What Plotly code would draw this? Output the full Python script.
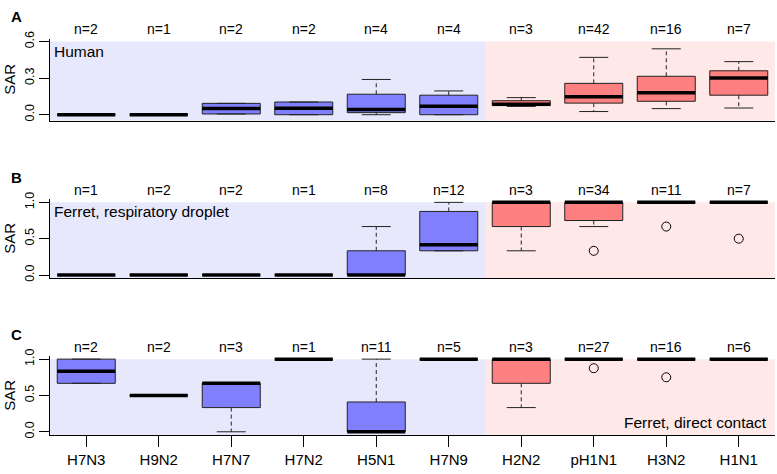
import plotly.graph_objects as go

# ---------------- data ----------------
categories = ["H7N3", "H9N2", "H7N7", "H7N2", "H5N1", "H7N9", "H2N2", "pH1N1", "H3N2", "H1N1"]
n_avian = 6  # first six subtypes are avian (blue), rest human (red)

# Panel A: Human
human_n = [2, 1, 2, 2, 4, 4, 3, 42, 16, 7]
human_lowwhisk = [0, 0, 0.006, 0, 0, 0, 0.068, 0.026, 0.05, 0.055]
human_q1 = [0, 0, 0.006, 0, 0.017, 0, 0.075, 0.095, 0.11, 0.16]
human_median = [0, 0, 0.05, 0.053, 0.043, 0.07, 0.085, 0.147, 0.18, 0.30]
human_q3 = [0, 0, 0.093, 0.104, 0.168, 0.16, 0.115, 0.257, 0.315, 0.36]
human_upwhisk = [0, 0, 0.093, 0.104, 0.289, 0.195, 0.14, 0.47, 0.54, 0.435]
human_outliers = [[], [], [], [], [], [], [], [], [], []]

# Panel B: Ferret, respiratory droplet
rd_n = [1, 2, 2, 1, 8, 12, 3, 34, 11, 7]
rd_lowwhisk = [0, 0, 0, 0, 0, 0.333, 0.333, 0.667, 1, 1]
rd_q1 = [0, 0, 0, 0, 0, 0.333, 0.667, 0.75, 1, 1]
rd_median = [0, 0, 0, 0, 0, 0.417, 1, 1, 1, 1]
rd_q3 = [0, 0, 0, 0, 0.333, 0.875, 1, 1, 1, 1]
rd_upwhisk = [0, 0, 0, 0, 0.667, 1, 1, 1, 1, 1]
rd_outliers = [[], [], [], [], [], [], [], [0.333], [0.667], [0.5]]

# Panel C: Ferret, direct contact
dc_n = [2, 2, 3, 1, 11, 5, 3, 27, 16, 6]
dc_lowwhisk = [0.667, 0.5, 0, 1, 0, 1, 0.333, 1, 1, 1]
dc_q1 = [0.667, 0.5, 0.333, 1, 0, 1, 0.667, 1, 1, 1]
dc_median = [0.833, 0.5, 0.667, 1, 0, 1, 1, 1, 1, 1]
dc_q3 = [1, 0.5, 0.667, 1, 0.41, 1, 1, 1, 1, 1]
dc_upwhisk = [1, 0.5, 0.667, 1, 1, 1, 1, 1, 1, 1]
dc_outliers = [[], [], [], [], [], [], [], [0.875], [0.75], []]

panel_labels = ["A", "B", "C"]
panel_texts = ["Human", "Ferret, respiratory droplet", "Ferret, direct contact"]
yticks_A = [0, 0.3, 0.6]
yticks_BC = [0, 0.5, 1.0]

# ---------------- styling ----------------
FONT = "Liberation Sans, Arial, sans-serif"
W, H = 777, 474
BLUE_FILL, RED_FILL = "#8080FF", "#FF8080"
BLUE_BG, RED_BG = "#E8E8FC", "#FFE8E8"
BOXW = 0.4
STAPLE = 0.2

# pixel layout (top, bottom) for each panel
panel_px = [(31.3, 115.5), (196.0, 276.7), (356.5, 437.2)]
x_px = (50, 775)
y_ranges = [[-0.05, 0.624], [-0.045, 1.04], [-0.045, 1.04]]
shade_top = [0.6, 1.0, 1.0]

panels = [
    (human_n, human_lowwhisk, human_q1, human_median, human_q3, human_upwhisk, human_outliers, yticks_A),
    (rd_n, rd_lowwhisk, rd_q1, rd_median, rd_q3, rd_upwhisk, rd_outliers, yticks_BC),
    (dc_n, dc_lowwhisk, dc_q1, dc_median, dc_q3, dc_upwhisk, dc_outliers, yticks_BC),
]

fig = go.Figure()
shapes = []
annotations = []
layout_axes = {}

for p, (ns, lw, q1, med, q3, uw, outs, yt) in enumerate(panels):
    k = "" if p == 0 else str(p + 1)
    xa, ya = "x" + k, "y" + k
    top, bot = panel_px[p]
    layout_axes["xaxis" + k] = dict(
        domain=[x_px[0] / W, x_px[1] / W], range=[0.5, 10.5], anchor=ya,
        showline=True, linecolor="#000", linewidth=1, showgrid=False, zeroline=False,
        tickmode="array", tickvals=list(range(1, 11)), ticktext=categories,
        ticks="outside" if p == 2 else "", ticklen=11, tickcolor="#000",
        showticklabels=(p == 2), tickfont=dict(family=FONT, size=15, color="#000"),
        fixedrange=True,
    )
    layout_axes["yaxis" + k] = dict(
        domain=[1 - bot / H, 1 - top / H], range=y_ranges[p], anchor=xa,
        showline=True, linecolor="#000", linewidth=1, showgrid=False, zeroline=False,
        tickmode="array", tickvals=yt, ticktext=["%.1f" % v for v in yt],
        ticks="outside", ticklen=10, tickcolor="#000", tickangle=-90,
        tickfont=dict(family=FONT, size=12.5, color="#000"), fixedrange=True,
    )
    # background shading: avian vs human subtypes
    shapes.append(dict(type="rect", xref=xa, yref=ya, x0=0.5, x1=n_avian + 0.5,
                       y0=y_ranges[p][0], y1=shade_top[p], fillcolor=BLUE_BG,
                       line=dict(width=0), layer="below"))
    shapes.append(dict(type="rect", xref=xa, yref=ya, x0=n_avian + 0.5, x1=len(categories) + 0.5,
                       y0=y_ranges[p][0], y1=shade_top[p], fillcolor=RED_BG,
                       line=dict(width=0), layer="below"))

    wx, wy, sx, sy, mx, my, ox, oy = [], [], [], [], [], [], [], []
    for i in range(len(categories)):
        xc = i + 1
        fill = BLUE_FILL if i < n_avian else RED_FILL
        fig.add_trace(go.Scatter(
            x=[xc - BOXW, xc + BOXW, xc + BOXW, xc - BOXW, xc - BOXW],
            y=[q1[i], q1[i], q3[i], q3[i], q1[i]],
            mode="lines", fill="toself", fillcolor=fill,
            line=dict(color="#222", width=1), xaxis=xa, yaxis=ya,
            hoverinfo="skip", showlegend=False))
        # whiskers
        wx += [xc, xc, None, xc, xc, None]
        wy += [q3[i], uw[i], None, q1[i], lw[i], None]
        # staples
        sx += [xc - STAPLE, xc + STAPLE, None, xc - STAPLE, xc + STAPLE, None]
        sy += [uw[i], uw[i], None, lw[i], lw[i], None]
        # median
        mx += [xc - BOXW, xc + BOXW, None]
        my += [med[i], med[i], None]
        for o in outs[i]:
            ox.append(xc)
            oy.append(o)
        annotations.append(dict(x=xc, y=1, xref=xa, yref=ya + " domain", text="n=%d" % ns[i],
                                showarrow=False, yanchor="middle", yshift=9.5,
                                font=dict(family=FONT, size=14, color="#000")))

    fig.add_trace(go.Scatter(x=wx, y=wy, mode="lines", line=dict(color="#222", width=1, dash="4px,3px"),
                             xaxis=xa, yaxis=ya, hoverinfo="skip", showlegend=False))
    fig.add_trace(go.Scatter(x=sx, y=sy, mode="lines", line=dict(color="#222", width=1),
                             xaxis=xa, yaxis=ya, hoverinfo="skip", showlegend=False))
    fig.add_trace(go.Scatter(x=mx, y=my, mode="lines", line=dict(color="#000", width=3.5),
                             xaxis=xa, yaxis=ya, hoverinfo="skip", showlegend=False))
    if ox:
        fig.add_trace(go.Scatter(x=ox, y=oy, mode="markers",
                                 marker=dict(symbol="circle-open", size=9, color="#000", line=dict(width=1)),
                                 xaxis=xa, yaxis=ya, hoverinfo="skip", showlegend=False))

    # y title
    annotations.append(dict(x=10 / W, xref="paper", y=0.5, yref=ya + " domain", text="SAR",
                            textangle=-90, showarrow=False, xanchor="center", yanchor="middle",
                            font=dict(family=FONT, size=15, color="#000")))
    # panel letter
    letter_y = [9.2, 174, 334.7][p]
    annotations.append(dict(x=16.5 / W, xref="paper", y=1 - letter_y / H, yref="paper",
                            text="<b>%s</b>" % panel_labels[p], showarrow=False,
                            xanchor="center", yanchor="middle",
                            font=dict(family=FONT, size=15, color="#000")))
    # panel description
    if p < 2:
        annotations.append(dict(x=0, xref=xa + " domain", y=1, yref=ya + " domain",
                                text=panel_texts[p], showarrow=False, xanchor="left", yanchor="top",
                                xshift=2, yshift=-2, font=dict(family=FONT, size=15.5, color="#000")))
    else:
        annotations.append(dict(x=1, xref=xa + " domain", y=0, yref=ya + " domain",
                                text=panel_texts[p], showarrow=False, xanchor="right", yanchor="bottom",
                                xshift=-6, yshift=2, font=dict(family=FONT, size=15.5, color="#000")))

fig.update_layout(
    width=W, height=H, margin=dict(l=0, r=0, t=0, b=0),
    paper_bgcolor="white", plot_bgcolor="white",
    shapes=shapes, annotations=annotations, showlegend=False,
    font=dict(family=FONT, color="#000"),
    **layout_axes,
)

fig.write_html("out.html", config={"displayModeBar": False},
               post_script="document.body.style.margin='0';document.body.style.overflow='hidden';")
